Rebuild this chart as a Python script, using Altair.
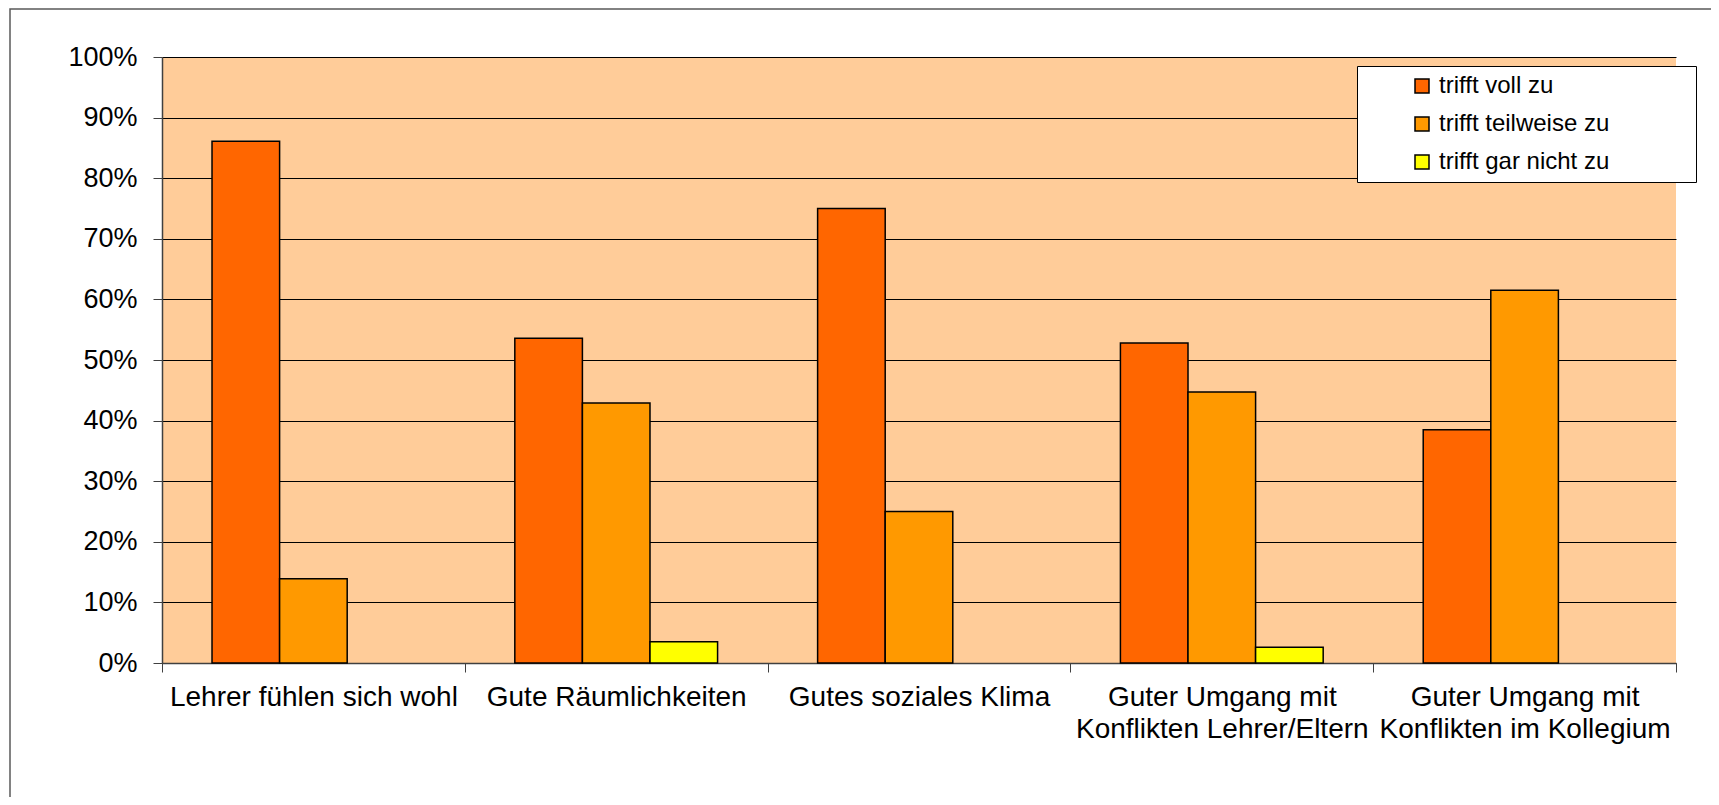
import altair as alt
import pandas as pd

categories = [
    "Lehrer fühlen sich wohl",
    "Gute Räumlichkeiten",
    "Gutes soziales Klima",
    "Guter Umgang mit\nKonflikten Lehrer/Eltern",
    "Guter Umgang mit\nKonflikten im Kollegium",
]
series_names = ["trifft voll zu", "trifft teilweise zu", "trifft gar nicht zu"]
voll = [86.1, 53.6, 75.0, 52.8, 38.5]
teilweise = [13.9, 42.9, 25.0, 44.7, 61.5]
gar_nicht = [None, 3.5, None, 2.6, None]
series_colors = ["#FF6600", "#FF9900", "#FFFF00"]
y_ticks = [0, 10, 20, 30, 40, 50, 60, 70, 80, 90, 100]

rows = []
for s, vals in zip(series_names, [voll, teilweise, gar_nicht]):
    for c, v in zip(categories, vals):
        if v is not None:
            rows.append({"category": c, "series": s, "value": v / 100})
df = pd.DataFrame(rows)

FONT = "Liberation Sans"

bars = alt.Chart(df).mark_bar(stroke="black", strokeWidth=1.5).encode(
    x=alt.X(
        "category:N",
        sort=categories,
        scale=alt.Scale(domain=categories, paddingInner=0, paddingOuter=0),
        axis=alt.Axis(
            title=None,
            labelAngle=0,
            labelExpr="split(datum.label, '\\n')",
            tickBand="extent",
            tickSize=9,
            tickColor="#404040",
            domainColor="#404040",
            domainWidth=1.5,
            labelFont=FONT,
            labelFontSize=28,
            labelColor="black",
            labelLineHeight=32,
            labelPadding=11,
            labelLimit=500,
            grid=False,
        ),
    ),
    xOffset=alt.XOffset(
        "series:N",
        sort=series_names,
        scale=alt.Scale(domain=series_names, paddingInner=0, paddingOuter=0.74),
    ),
    y=alt.Y(
        "value:Q",
        scale=alt.Scale(domain=[0, 1]),
        axis=alt.Axis(
            title=None,
            values=[t / 100 for t in y_ticks],
            format=".0%",
            grid=True,
            gridColor="black",
            gridWidth=1,
            tickSize=9,
            tickColor="#404040",
            domainColor="#404040",
            domainWidth=1.5,
            labelFont=FONT,
            labelFontSize=27,
            labelColor="black",
            labelPadding=16,
        ),
    ),
    color=alt.Color(
        "series:N",
        sort=series_names,
        scale=alt.Scale(domain=series_names, range=series_colors),
        legend=alt.Legend(
            orient="none",
            legendX=1195,
            legendY=9,
            title="\u00a0",
            titleOrient="left",
            titleFontSize=1,
            titlePadding=45,
            fillColor="white",
            strokeColor="black",
            padding=8,
            labelFont=FONT,
            labelFontSize=24,
            labelColor="black",
            labelLimit=500,
            labelOffset=5,
            labelExpr="datum.label + '\u00a0\u2800\u2800\u2800\u2800'",
            symbolType="square",
            symbolSize=196,
            symbolStrokeColor="black",
            symbolStrokeWidth=1.5,
            rowPadding=14,
        ),
    ),
)

frame = alt.Chart(alt.Data(values=[{}])).mark_rect(
    fillOpacity=0, stroke="#5a5a5a", strokeWidth=1.5
).encode(
    x=alt.value(-152), x2=alt.value(1600), y=alt.value(-48), y2=alt.value(800)
)

chart = alt.layer(frame, bars).properties(
    width=1514,
    height=606,
    autosize=alt.AutoSizeParams(type="none"),
    padding={"left": 154, "top": 49, "right": 35, "bottom": 134},
    background="white",
).configure_view(fill="#FFCC99", strokeWidth=0)

chart.save("out.html", embed_options={"renderer": "svg", "actions": False})
